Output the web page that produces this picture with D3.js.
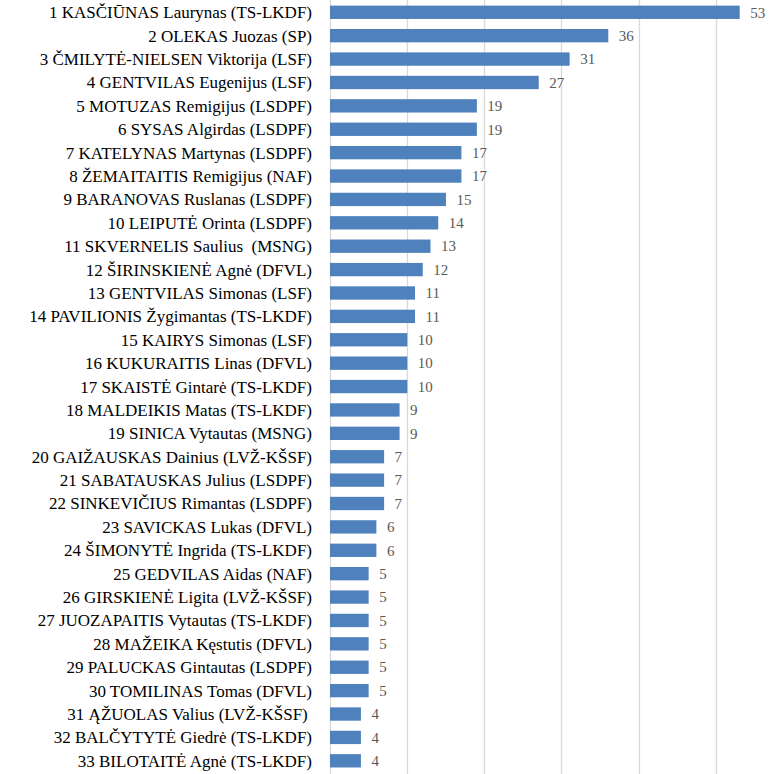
<!DOCTYPE html>
<html><head><meta charset="utf-8">
<script src="https://cdn.jsdelivr.net/npm/d3@7"></script>
<style>
html,body{margin:0;padding:0;background:#fff;overflow:hidden}
svg text{font-family:"Liberation Serif",Tinos,Times,serif !important}
</style>
</head><body>
<svg id="chart" width="774" height="774"></svg>
<script>
const categories = [
"1 KASČIŪNAS Laurynas (TS-LKDF)",
"2 OLEKAS Juozas (SP)",
"3 ČMILYTĖ-NIELSEN Viktorija (LSF)",
"4 GENTVILAS Eugenijus (LSF)",
"5 MOTUZAS Remigijus (LSDPF)",
"6 SYSAS Algirdas (LSDPF)",
"7 KATELYNAS Martynas (LSDPF)",
"8 ŽEMAITAITIS Remigijus (NAF)",
"9 BARANOVAS Ruslanas (LSDPF)",
"10 LEIPUTĖ Orinta (LSDPF)",
"11 SKVERNELIS Saulius  (MSNG)",
"12 ŠIRINSKIENĖ Agnė (DFVL)",
"13 GENTVILAS Simonas (LSF)",
"14 PAVILIONIS Žygimantas (TS-LKDF)",
"15 KAIRYS Simonas (LSF)",
"16 KUKURAITIS Linas (DFVL)",
"17 SKAISTĖ Gintarė (TS-LKDF)",
"18 MALDEIKIS Matas (TS-LKDF)",
"19 SINICA Vytautas (MSNG)",
"20 GAIŽAUSKAS Dainius (LVŽ-KŠSF)",
"21 SABATAUSKAS Julius (LSDPF)",
"22 SINKEVIČIUS Rimantas (LSDPF)",
"23 SAVICKAS Lukas (DFVL)",
"24 ŠIMONYTĖ Ingrida (TS-LKDF)",
"25 GEDVILAS Aidas (NAF)",
"26 GIRSKIENĖ Ligita (LVŽ-KŠSF)",
"27 JUOZAPAITIS Vytautas (TS-LKDF)",
"28 MAŽEIKA Kęstutis (DFVL)",
"29 PALUCKAS Gintautas (LSDPF)",
"30 TOMILINAS Tomas (DFVL)",
"31 ĄŽUOLAS Valius (LVŽ-KŠSF) ",
"32 BALČYTYTĖ Giedrė (TS-LKDF)",
"33 BILOTAITĖ Agnė (TS-LKDF)"
];
const values = [53,36,31,27,19,19,17,17,15,14,13,12,11,11,10,10,10,9,9,7,7,7,6,6,5,5,5,5,5,5,4,4,4];
const xTicks = [0,10,20,30,40,50,60];
const FONT = '"Liberation Serif", Tinos, Times, serif';

const svg = d3.select("#chart");
const x = d3.scaleLinear().domain([0,60]).range([329.5, 329.5 + 60*7.73]);
const y = d3.scaleBand().domain(categories).range([0.6, 772.5]).paddingInner(0.43).paddingOuter(0.215);

svg.append("g").selectAll("line").data(xTicks).join("line")
  .attr("x1", d => Math.round(x(d)) + 0.5).attr("x2", d => Math.round(x(d)) + 0.5)
  .attr("y1", 0).attr("y2", 774)
  .attr("stroke", "#d9d9d9").attr("stroke-width", 1.3);

svg.append("g").selectAll("rect").data(values).join("rect")
  .attr("x", x(0) + 0.5)
  .attr("y", (d,i) => y(categories[i]))
  .attr("width", d => x(d) - x(0))
  .attr("height", y.bandwidth())
  .attr("fill", "#4f81bd");

svg.append("g").selectAll("text").data(values).join("text")
  .attr("x", d => x(d) + 11)
  .attr("y", (d,i) => y(categories[i]) + y.bandwidth()/2)
  .attr("dy", "0.35em")
  .attr("font-family", FONT)
  .style("font-family", FONT, "important")
  .attr("font-size", 15)
  .attr("fill", "#595959")
  .text(d => d);

svg.append("g").selectAll("text").data(categories).join("text")
  .attr("x", 312)
  .attr("y", d => y(d) + y.bandwidth()/2)
  .attr("dy", "0.35em")
  .attr("text-anchor", "end")
  .attr("xml:space", "preserve")
  .attr("font-family", FONT)
  .style("font-family", FONT, "important")
  .attr("font-size", 17)
  .attr("fill", "#000")
  .text(d => d);
</script>
</body></html>
